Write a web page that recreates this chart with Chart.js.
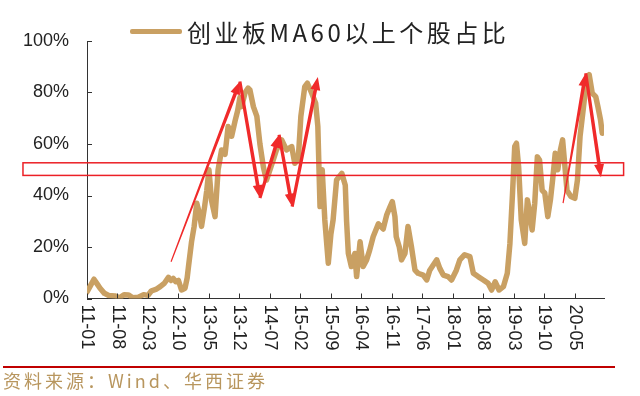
<!DOCTYPE html>
<html lang="zh">
<head>
    <meta charset="UTF-8">
    <title>创业板MA60以上个股占比</title>
    <style>
        body {
            margin: 0;
            background: #fff;
        }
        .wrap {
            position: relative;
            width: 640px;
            height: 396px;
            overflow: hidden;
        }
        #legend {
            position: absolute;
            left: 130px;
            top: 14px;
            height: 34px;
            display: flex;
            align-items: center;
            font-family: "Noto Sans CJK SC", sans-serif;
            font-size: 24px;
            letter-spacing: 3.5px;
            color: #222;
        }
        #legend .bar {
            width: 52px;
            height: 5px;
            margin-right: 5px;
            border-radius: 2px;
        }
        .rule {
            position: absolute;
            left: 3px;
            top: 366px;
            width: 612px;
            height: 2px;
            background: #c00000;
        }
        .source {
            position: absolute;
            left: 3px;
            top: 367px;
            font-family: "Noto Sans CJK SC", sans-serif;
            font-size: 18px;
            letter-spacing: 3px;
            color: #b8965e;
        }
    </style>
</head>
<body>
<div class="wrap">
    <canvas id="chart" width="640" height="396"></canvas>
    <div id="legend"></div>
    <div class="rule"></div>
    <div class="source">资料来源：Wind、华西证券</div>
</div>

<script src="https://cdn.jsdelivr.net/npm/chart.js"></script>
<script>
    // sampled dates and share of ChiNext stocks above MA60 (%)
    const dates = [
        '2011-01-01', '2011-01-25', '2011-02-19', '2011-03-13', '2011-04-01', '2011-05-01',
        '2011-06-01', '2011-07-13', '2011-08-16', '2011-09-16', '2011-10-16', '2011-11-16',
        '2011-12-25', '2012-02-01', '2012-03-01', '2012-03-25', '2012-04-25', '2012-05-25',
        '2012-06-25', '2012-07-22', '2012-08-10', '2012-08-25', '2012-09-13', '2012-10-01',
        '2012-10-22', '2012-11-16', '2012-12-01', '2012-12-10', '2013-01-01', '2013-01-19',
        '2013-02-07', '2013-02-25', '2013-03-10', '2013-04-01', '2013-04-16', '2013-05-01',
        '2013-05-19', '2013-06-13', '2013-07-04', '2013-07-28', '2013-08-22', '2013-09-13',
        '2013-10-07', '2013-11-01', '2013-11-19', '2013-12-04', '2013-12-16', '2014-01-10',
        '2014-02-01', '2014-02-13', '2014-03-07', '2014-04-01', '2014-04-22', '2014-05-16',
        '2014-06-07', '2014-07-01', '2014-07-25', '2014-08-16', '2014-09-22', '2014-10-25',
        '2014-12-01', '2014-12-22', '2015-01-16', '2015-02-04', '2015-03-01', '2015-03-19',
        '2015-04-19', '2015-05-16', '2015-06-01', '2015-06-16', '2015-07-01', '2015-07-19',
        '2015-08-13', '2015-09-01', '2015-09-16', '2015-10-10', '2015-11-16', '2015-12-10',
        '2015-12-19', '2016-01-01', '2016-01-22', '2016-02-16', '2016-02-28', '2016-03-22',
        '2016-04-13', '2016-05-07', '2016-05-28', '2016-06-22', '2016-07-28', '2016-09-01',
        '2016-09-25', '2016-10-19', '2016-11-04', '2016-11-22', '2016-12-01', '2016-12-22',
        '2017-01-07', '2017-02-01', '2017-02-22', '2017-03-16', '2017-04-10', '2017-05-01',
        '2017-06-07', '2017-07-01', '2017-07-22', '2017-08-16', '2017-09-10', '2017-10-01',
        '2017-10-25', '2017-11-28', '2017-12-22', '2018-01-25', '2018-02-19', '2018-03-22',
        '2018-04-28', '2018-05-22', '2018-06-25', '2018-08-01', '2018-09-04', '2018-09-28',
        '2018-10-22', '2018-11-19', '2018-12-19', '2019-01-16', '2019-02-04', '2019-02-22',
        '2019-03-07', '2019-03-19', '2019-04-04', '2019-04-22', '2019-05-16', '2019-06-04',
        '2019-06-22', '2019-07-07', '2019-07-25', '2019-08-13', '2019-08-28', '2019-09-16',
        '2019-10-04', '2019-10-25', '2019-11-13', '2019-11-28', '2019-12-16', '2020-01-04',
        '2020-01-22', '2020-02-07', '2020-02-19', '2020-03-07', '2020-04-04', '2020-05-01',
        '2020-05-19', '2020-06-07', '2020-07-01', '2020-07-22', '2020-08-10', '2020-09-01',
        '2020-09-25', '2020-10-10', '2020-10-28', '2020-11-10'
    ];
    const ratio = [
        2.5, 5, 7.5, 5.5, 4, 2,
        1.2, 1, 0.3, 1.5, 1.4, 0.3,
        0.5, 1.5, 1.2, 3, 3.5, 4.6,
        6, 8.2, 7, 7.8, 6.5, 7,
        3.3, 4, 8, 12.4, 22, 28,
        37, 33, 28, 35.7, 42, 50,
        38, 31.8, 50, 57.7, 56, 66.8,
        63, 69, 73, 78, 74.5, 80,
        81.7, 81, 74.5, 70.7, 60, 51,
        46, 50, 54, 57.7, 61.6, 57.7,
        59, 52.5, 54, 70.7, 82.3, 83.6,
        79.7, 75.8, 66.8, 35.7, 50, 30.5,
        13.7, 25, 30.5, 46, 48.6, 44,
        30, 17.5, 12.4, 17.5, 8.5, 22,
        12.4, 15, 18.8, 24, 29, 27,
        32.4, 35.7, 37.6, 31.8, 24, 20,
        15, 17.5, 28, 20, 11, 9.8,
        9.1, 7.2, 11, 13, 15, 11.7,
        9.1, 8.5, 7.2, 11, 15, 17,
        16.3, 9.8, 8.5, 7.2, 5.9, 3.3,
        6.5, 3.3, 4.6, 9.8, 21.4, 40.9,
        59, 60.3, 51.2, 30.5, 21.4, 38.3,
        33, 26.6, 37, 55, 53.8, 42,
        41, 31.8, 38.3, 46, 56.4, 50,
        57.7, 61.6, 53.8, 42, 39.6, 38.9,
        46, 62.9, 74.5, 85, 86.9, 79.7,
        78.4, 74.5, 69.4, 64.2
    ];
    const tickLabels = ['11-01', '11-08', '12-03', '12-10', '13-05', '13-12', '14-07', '15-02', '15-09',
        '16-04', '16-11', '17-06', '18-01', '18-08', '19-03', '19-10', '20-05'];
    const yTicks = [0, 20, 40, 60, 80, 100];

    // red annotation marks: [from date, from %, to date, to %, starts thin]
    const arrows = [
        ['2012-08-10', 14.3, '2013-12-04', 84.3, true],
        ['2013-12-04', 84.3, '2014-04-22', 39.0, false],
        ['2014-04-22', 39.0, '2014-09-04', 63.6, false],
        ['2014-09-04', 63.6, '2014-12-04', 35.7, false],
        ['2014-12-04', 35.7, '2015-06-01', 86.0, false],
        ['2020-02-10', 37.0, '2020-07-16', 87.5, true],
        ['2020-07-16', 87.5, '2020-11-01', 47.1, false]
    ];
    const band = { from: '2009-10-10', to: '2021-04-07', low: 47.8, high: 52.7 };

    const seriesName = '创业板MA60以上个股占比';
    const lineColor = '#c9a063';

    // months since 2011-01
    function toMonths(d) {
        const [y, m, dd] = d.split('-').map(Number);
        return (y - 2011) * 12 + (m - 1) + (dd - 1) / 30;
    }

    const points = dates.map((d, i) => ({ x: toMonths(d), y: ratio[i] }));

    const innerTicks = {
        id: 'innerTicks',
        afterDraw(chart) {
            const { ctx, scales: { x, y } } = chart;
            ctx.save();
            ctx.strokeStyle = '#333';
            ctx.lineWidth = 1;
            ctx.beginPath();
            y.ticks.forEach(t => {
                const py = Math.round(y.getPixelForValue(t.value)) + 0.5;
                ctx.moveTo(x.left, py);
                ctx.lineTo(x.left + 5, py);
            });
            x.ticks.forEach(t => {
                const px = Math.round(x.getPixelForValue(t.value)) + 0.5;
                ctx.moveTo(px, y.bottom);
                ctx.lineTo(px, y.bottom - 5);
            });
            ctx.stroke();

            // x labels read top to bottom
            ctx.fillStyle = '#222';
            ctx.font = '18px "Liberation Sans", Arial, sans-serif';
            ctx.textAlign = 'left';
            ctx.textBaseline = 'middle';
            x.ticks.forEach(t => {
                ctx.save();
                ctx.translate(x.getPixelForValue(t.value), y.bottom + 6);
                ctx.rotate(Math.PI / 2);
                ctx.fillText(t.label, 0, 0);
                ctx.restore();
            });
            ctx.restore();
        }
    };

    const marks = {
        id: 'marks',
        afterDatasetsDraw(chart) {
            const { ctx, scales: { x, y } } = chart;
            ctx.save();
            ctx.strokeStyle = '#ec2026';
            ctx.lineWidth = 1.5;
            const bx0 = x.getPixelForValue(toMonths(band.from));
            const bx1 = x.getPixelForValue(toMonths(band.to));
            const by0 = y.getPixelForValue(band.high);
            const by1 = y.getPixelForValue(band.low);
            ctx.strokeRect(bx0, by0, bx1 - bx0, by1 - by0);

            ctx.fillStyle = '#f02a2a';
            arrows.forEach(([d0, v0, d1, v1, thin]) => {
                const x0 = x.getPixelForValue(toMonths(d0)), y0 = y.getPixelForValue(v0);
                const x1 = x.getPixelForValue(toMonths(d1)), y1 = y.getPixelForValue(v1);
                const len = Math.hypot(x1 - x0, y1 - y0);
                const ux = (x1 - x0) / len, uy = (y1 - y0) / len;
                const nx = -uy, ny = ux;
                const head = 13, hw = 5;
                const w0 = thin ? 0.6 : 1.6, w1 = 1.8;
                const hx = x1 - ux * head, hy = y1 - uy * head;
                ctx.beginPath();
                ctx.moveTo(x0 + nx * w0, y0 + ny * w0);
                ctx.lineTo(hx + nx * w1, hy + ny * w1);
                ctx.lineTo(hx + nx * hw, hy + ny * hw);
                ctx.lineTo(x1, y1);
                ctx.lineTo(hx - nx * hw, hy - ny * hw);
                ctx.lineTo(hx - nx * w1, hy - ny * w1);
                ctx.lineTo(x0 - nx * w0, y0 - ny * w0);
                ctx.closePath();
                ctx.fill();
            });
            ctx.restore();
        }
    };

    const chart = new Chart(document.getElementById('chart').getContext('2d'), {
        type: 'line',
        data: {
            datasets: [{
                label: seriesName,
                data: points,
                borderColor: lineColor,
                backgroundColor: lineColor,
                borderWidth: 5.5,
                borderJoinStyle: 'round',
                borderCapStyle: 'round',
                pointRadius: 0,
                tension: 0,
                fill: false
            }]
        },
        options: {
            responsive: false,
            animation: false,
            devicePixelRatio: 1,
            layout: { padding: { top: 41, right: 36, left: 0, bottom: 0 } },
            plugins: {
                legend: { display: false },
                tooltip: { enabled: false }
            },
            scales: {
                x: {
                    type: 'linear',
                    min: 0,
                    max: 118.7,
                    afterFit: s => { s.height = 97.5; },
                    grid: { drawOnChartArea: false, drawTicks: false },
                    border: { color: '#333', width: 1 },
                    ticks: {
                        stepSize: 7,
                        includeBounds: false,
                        autoSkip: false,
                        minRotation: 90,
                        maxRotation: 90,
                        color: 'rgba(0,0,0,0)',
                        font: { size: 18 },
                        callback: v => tickLabels[Math.round(v / 7)]
                    }
                },
                y: {
                    min: 0,
                    max: 100,
                    afterFit: s => { s.width = 87; },
                    afterBuildTicks: s => { s.ticks = yTicks.map(v => ({ value: v })); },
                    grid: { drawOnChartArea: false, drawTicks: false },
                    border: { color: '#333', width: 1 },
                    ticks: {
                        padding: 18,
                        color: '#222',
                        font: { family: '"Liberation Sans", Arial, sans-serif', size: 18 },
                        callback: v => v + '%'
                    }
                }
            }
        },
        plugins: [marks, innerTicks]
    });

    // html legend built from the dataset
    const legend = document.getElementById('legend');
    chart.data.datasets.forEach(ds => {
        const bar = document.createElement('span');
        bar.className = 'bar';
        bar.style.background = ds.borderColor;
        const txt = document.createElement('span');
        txt.textContent = ds.label;
        legend.appendChild(bar);
        legend.appendChild(txt);
    });
</script>
</body>
</html>
